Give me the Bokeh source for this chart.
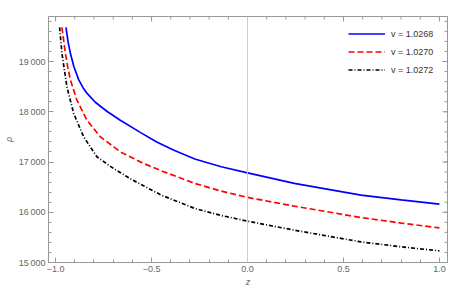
from bokeh.plotting import figure
from bokeh.models import FixedTicker, Span, Legend, LegendItem, Range1d
from bokeh.embed import file_html
from bokeh.resources import INLINE

# ---- data ----
z_blue = [-0.946, -0.935, -0.923, -0.905, -0.880, -0.857, -0.837, -0.793, -0.733, -0.663, -0.559, -0.473, -0.386, -0.275, -0.137, 0.0, 0.244, 0.591, 0.8, 1.0]
rho_blue = [19681, 19390, 19163, 18900, 18640, 18480, 18370, 18190, 18010, 17830, 17590, 17400, 17240, 17060, 16905, 16785, 16574, 16341, 16245, 16161]

z_red = [-0.967, -0.949, -0.937, -0.923, -0.889, -0.837, -0.767, -0.663, -0.542, -0.449, -0.275, -0.137, 0.0, 0.244, 0.591, 0.8, 1.0]
rho_red = [19681, 19163, 18897, 18632, 18233, 17835, 17502, 17203, 16972, 16825, 16574, 16420, 16295, 16121, 15896, 15785, 15689]

z_black = [-0.979, -0.967, -0.954, -0.941, -0.906, -0.854, -0.785, -0.698, -0.603, -0.449, -0.275, -0.137, 0.0, 0.244, 0.591, 0.8, 1.0]
rho_black = [19681, 19163, 18831, 18498, 17968, 17502, 17104, 16870, 16650, 16341, 16076, 15935, 15823, 15643, 15410, 15313, 15231]

series_labels = ["v = 1.0268", "v = 1.0270", "v = 1.0272"]

x_major = [-1.0, -0.5, 0.0, 0.5, 1.0]
x_minor = [round(-1.0 + 0.1 * i, 2) for i in range(21)]
x_tick_labels = ["\u22121.0", "\u22120.5", "0.0", "0.5", "1.0"]
y_major = [15000, 16000, 17000, 18000, 19000]
y_minor = [15000 + 200 * i for i in range(25)]
y_tick_labels = ["15\u2009000", "16\u2009000", "17\u2009000", "18\u2009000", "19\u2009000"]

X0, X1 = -1.037, 1.042
Y0, Y1 = 15000, 19896

FONT = "Liberation Sans"
GRAY = "#999999"
LABEL = "#666666"

W, H = 463, 293
MB_L, MB_R, MB_T, MB_B = 47, 16, 16, 31
FW, FH = W - MB_L - MB_R, H - MB_T - MB_B

p = figure(width=W, height=H, output_backend="svg", toolbar_location=None,
           x_range=Range1d(X0, X1), y_range=Range1d(Y0, Y1),
           min_border_left=MB_L, min_border_right=MB_R, min_border_top=MB_T, min_border_bottom=MB_B,
           x_axis_label="z", y_axis_label="\u03c1")
p.background_fill_color = "white"
p.border_fill_color = "white"
p.outline_line_color = GRAY
p.outline_line_width = 1
p.grid.visible = False

def style(ax):
    ax.axis_line_color = GRAY
    ax.major_tick_line_color = GRAY
    ax.minor_tick_line_color = GRAY
    ax.major_tick_in = 5
    ax.major_tick_out = 0
    ax.minor_tick_in = 3
    ax.minor_tick_out = 0
    ax.major_label_text_font = FONT
    ax.major_label_text_font_size = "9px"
    ax.major_label_text_color = LABEL
    ax.major_label_standoff = 3
    ax.axis_label_text_font = FONT
    ax.axis_label_text_font_size = "9px"
    ax.axis_label_text_font_style = "italic"
    ax.axis_label_text_color = LABEL
    ax.axis_label_standoff = 2

xa = p.xaxis[0]
xa.ticker = FixedTicker(ticks=x_major, minor_ticks=x_minor)
xa.major_label_overrides = {v: s for v, s in zip(x_major, x_tick_labels)}
style(xa)
ya = p.yaxis[0]
ya.ticker = FixedTicker(ticks=y_major, minor_ticks=y_minor)
ya.major_label_overrides = {v: s for v, s in zip(y_major, y_tick_labels)}
style(ya)

# ticks on the top and right edges of the frame (inward), from the same tick lists
ypx = (Y1 - Y0) / FH
xpx = (X1 - X0) / FW
p.segment(x0=x_major, y0=[Y1] * len(x_major), x1=x_major, y1=[Y1 - 5 * ypx] * len(x_major), line_color=GRAY, line_width=1)
p.segment(x0=x_minor, y0=[Y1] * len(x_minor), x1=x_minor, y1=[Y1 - 3 * ypx] * len(x_minor), line_color=GRAY, line_width=1)
p.segment(x0=[X1] * len(y_major), y0=y_major, x1=[X1 - 5 * xpx] * len(y_major), y1=y_major, line_color=GRAY, line_width=1)
p.segment(x0=[X1] * len(y_minor), y0=y_minor, x1=[X1 - 3 * xpx] * len(y_minor), y1=y_minor, line_color=GRAY, line_width=1)

p.add_layout(Span(location=0, dimension="height", line_color="#cccccc", line_width=1))

r1 = p.line(z_blue, rho_blue, line_color="#0000ff", line_width=1.7)
r2 = p.line(z_red, rho_red, line_color="#ff0000", line_width=1.7, line_dash="6 3")
r3 = p.line(z_black, rho_black, line_color="#000000", line_width=1.7, line_dash="4 2 1 2")

legend = Legend(items=[LegendItem(label=series_labels[0], renderers=[r1]),
                       LegendItem(label=series_labels[1], renderers=[r2]),
                       LegendItem(label=series_labels[2], renderers=[r3])],
                location=(300, 185), orientation="vertical",
                glyph_width=37, glyph_height=15, label_height=15, label_standoff=6,
                spacing=3, padding=0, margin=0,
                border_line_color=None, background_fill_alpha=0,
                label_text_font=FONT, label_text_font_size="9px", label_text_color="#333333")
p.add_layout(legend)

open("out.html", "w").write(file_html(p, INLINE))
